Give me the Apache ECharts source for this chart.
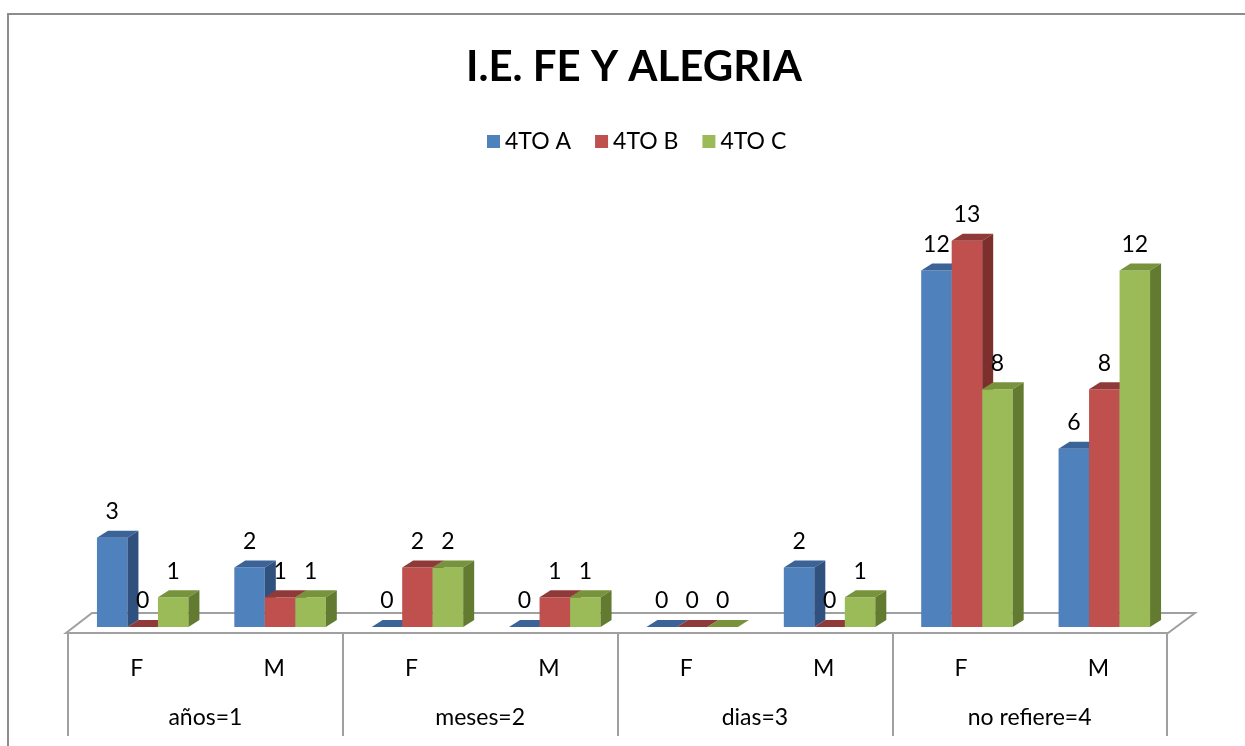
<!DOCTYPE html>
<html lang="es">
    <head>
        <meta charset="UTF-8" />
        <title>I.E. FE Y ALEGRIA</title>
        <script src="https://cdn.jsdelivr.net/npm/echarts@6/dist/echarts.min.js"></script>
        <style>
            body {
                margin: 0;
                padding: 0;
                background: #fff;
            }

            #chart {
                width: 1245px;
                height: 746px;
            }
        </style>
    </head>
    <body>
        <div id="chart"></div>
        <script>
            let sexos = ['F', 'M', 'F', 'M', 'F', 'M', 'F', 'M'];
            let grupos = ['años=1', 'meses=2', 'dias=3', 'no refiere=4'];
            let seriesNames = ['4TO A', '4TO B', '4TO C'];
            let data4toA = [3, 2, 0, 0, 0, 2, 12, 6];
            let data4toB = [0, 1, 2, 1, 0, 0, 13, 8];
            let data4toC = [1, 1, 2, 1, 0, 1, 8, 12];

            // front / top / side colours per series
            let colors = [
                ['#4f81bd', '#3b6398', '#30507e'],
                ['#c0504d', '#8f3a38', '#7c2f2d'],
                ['#9bbb59', '#77933c', '#637b31']
            ];
            let font = 'Lato, "Open Sans", sans-serif';
            let dx = 11;
            let dy = -7;

            function barRenderer(si) {
                return function (params, api) {
                    let idx = api.value(0);
                    let v = api.value(1);
                    let base = api.coord([idx, 0]);
                    let top = api.coord([idx, v]);
                    let band = api.size([1, 0])[0];
                    let w = band * 0.222;
                    let x0 = base[0] - 1.5 * w + si * w + 6;
                    let c = colors[si];
                    return {
                        type: 'group',
                        children: [
                            {
                                type: 'rect',
                                shape: { x: x0, y: top[1], width: w, height: base[1] - top[1] },
                                style: { fill: c[0] }
                            },
                            {
                                type: 'polygon',
                                shape: {
                                    points: [
                                        [x0, top[1]],
                                        [x0 + w, top[1]],
                                        [x0 + w + dx, top[1] + dy],
                                        [x0 + dx, top[1] + dy]
                                    ]
                                },
                                style: { fill: c[1] }
                            },
                            {
                                type: 'polygon',
                                shape: {
                                    points: [
                                        [x0 + w, top[1]],
                                        [x0 + w + dx, top[1] + dy],
                                        [x0 + w + dx, base[1] + dy],
                                        [x0 + w, base[1]]
                                    ]
                                },
                                style: { fill: c[2] }
                            },
                            {
                                type: 'text',
                                style: {
                                    text: String(v),
                                    x: x0 + w / 2,
                                    y: top[1] - 26,
                                    align: 'center',
                                    verticalAlign: 'middle',
                                    fontFamily: font,
                                    fontSize: 23,
                                    fill: '#000'
                                }
                            }
                        ]
                    };
                };
            }

            function floorRenderer(params, api) {
                let cs = params.coordSys;
                let fy = cs.y + cs.height + 6;
                let fx0 = cs.x - 2;
                let fx1 = cs.x + cs.width + 1;
                return {
                    type: 'polygon',
                    shape: {
                        points: [
                            [fx0, fy],
                            [fx1, fy],
                            [fx1 + 27, fy - 20],
                            [fx0 + 26, fy - 20]
                        ]
                    },
                    style: { fill: '#fff', stroke: '#a0a0a0', lineWidth: 2 }
                };
            }

            let chartDom = document.getElementById('chart');
            let myChart = echarts.init(chartDom);

            let allData = [data4toA, data4toB, data4toC];
            let series = [
                {
                    type: 'custom',
                    name: 'floor',
                    renderItem: floorRenderer,
                    data: [[0, 0]],
                    silent: true,
                    z: 1
                }
            ];
            for (let i = 0; i < 3; i++) {
                series.push({
                    type: 'custom',
                    name: seriesNames[i],
                    renderItem: barRenderer(i),
                    itemStyle: { color: colors[i][0] },
                    encode: { x: 0, y: 1 },
                    data: allData[i].map((v, k) => [k, v]),
                    z: 2 + i
                });
            }

            let option = {
                animation: false,
                graphic: [
                    {
                        type: 'rect',
                        shape: { x: 8, y: 14, width: 1400, height: 900 },
                        style: { fill: 'none', stroke: '#8c8c8c', lineWidth: 2 },
                        z: -10
                    }
                ],
                title: {
                    text: 'I.E. FE Y ALEGRIA',
                    left: 461,
                    top: 41,
                    textStyle: {
                        fontFamily: font,
                        fontSize: 42,
                        fontWeight: 'bold',
                        color: '#000'
                    }
                },
                legend: {
                    data: seriesNames,
                    top: 125,
                    left: 482,
                    icon: 'rect',
                    itemWidth: 13,
                    itemHeight: 13,
                    itemGap: 24,
                    textStyle: { fontFamily: font, fontSize: 23, color: '#000' }
                },
                grid: {
                    left: 68,
                    right: 78,
                    top: 211,
                    bottom: 119
                },
                xAxis: [
                    {
                        type: 'category',
                        data: sexos,
                        axisLine: { show: false },
                        axisTick: { show: false },
                        axisLabel: { margin: 30, fontFamily: font, fontSize: 23, color: '#000' }
                    },
                    {
                        type: 'category',
                        data: grupos,
                        position: 'bottom',
                        offset: 6,
                        axisLine: { show: false },
                        axisTick: { show: true, length: 103, lineStyle: { color: '#a0a0a0', width: 2 } },
                        axisLabel: { margin: 73, fontFamily: font, fontSize: 23, color: '#000' }
                    }
                ],
                yAxis: {
                    type: 'value',
                    min: 0,
                    max: 14,
                    show: false
                },
                series: series
            };
            myChart.setOption(option);
        </script>
    </body>
</html>
